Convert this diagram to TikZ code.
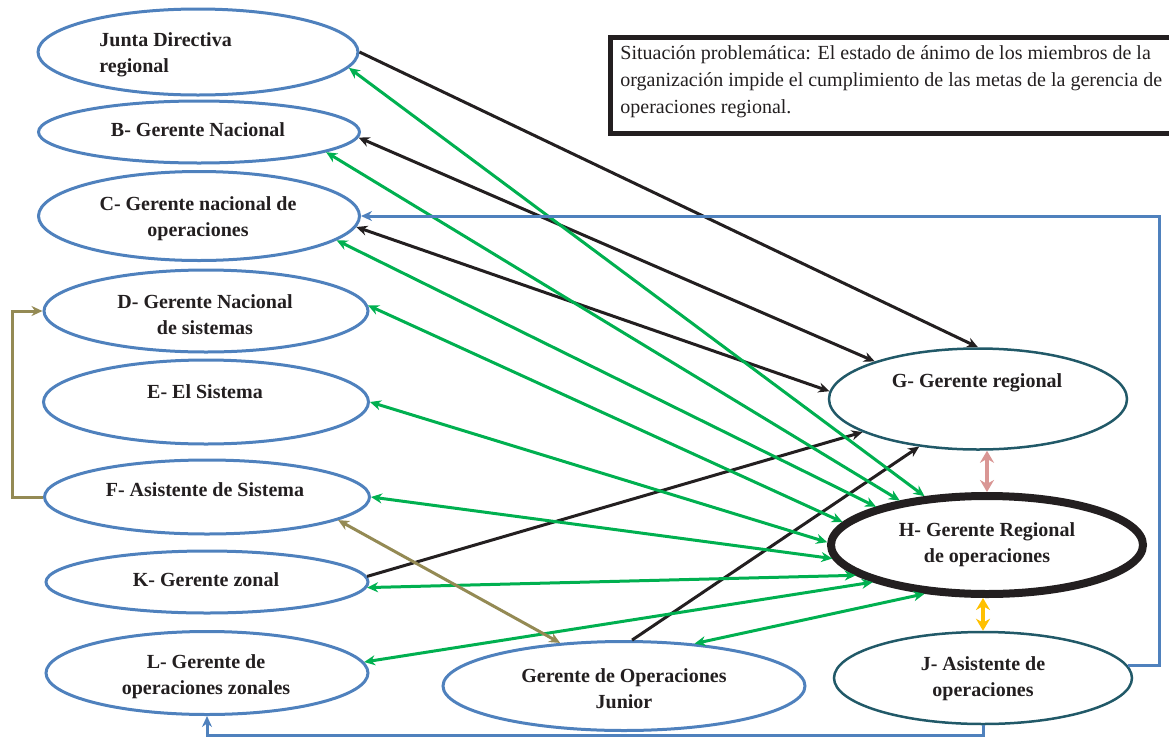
\documentclass[tikz,border=0pt]{standalone}
\usepackage{fontspec}
\setmainfont{Liberation Serif}
\usetikzlibrary{shapes.geometric,arrows.meta}
\definecolor{azul}{RGB}{79,129,189}
\definecolor{petroleo}{RGB}{33,89,104}
\definecolor{verde}{RGB}{0,176,80}
\definecolor{oliva}{RGB}{148,138,84}
\definecolor{rosa}{RGB}{217,150,148}
\definecolor{oro}{RGB}{255,192,0}
\definecolor{negro}{RGB}{35,31,32}

\begin{document}
\begin{tikzpicture}[x=0.5pt,y=-0.5pt,
    >={Stealth[length=5.5pt,width=5pt]},
    persona/.style = {draw=azul, ellipse, line width=1.5pt, inner sep=0pt},
    regional/.style = {draw=petroleo, ellipse, line width=1.25pt, inner sep=0pt},
    texto/.style = {font=\bfseries\fontsize{10}{13}\selectfont, text=negro, align=center},
    linea/.style = {line width=1.5pt}]
    \useasboundingbox (0,0) rectangle (1169,740);

    \node[draw=negro, line width=2.5pt, minimum width=290pt, minimum height=48pt, anchor=north west] (sit) at (607.5,34.5) {};
    \node[anchor=west, align=left, inner sep=0pt, text=negro, font=\fontsize{10}{13.5}\selectfont] (sittxt) at (620,82)
        {Situación problemática: El estado de ánimo de los miembros de la\\
         organización impide el cumplimiento de las metas de la gerencia de\\
         operaciones regional.};

    \node[persona, minimum width=160pt, minimum height=43pt]   (A)  at (198,52)  {};
    \node[persona, minimum width=160.5pt, minimum height=31pt] (B)  at (199,132) {};
    \node[persona, minimum width=160.5pt, minimum height=44.5pt] (C) at (199,216) {};
    \node[persona, minimum width=162pt, minimum height=41pt]   (D)  at (206,311) {};
    \node[persona, minimum width=162.5pt, minimum height=42pt] (E)  at (206,402) {};
    \node[persona, minimum width=162.5pt, minimum height=37pt] (F)  at (207,497) {};
    \node[persona, minimum width=161pt, minimum height=31pt]   (K)  at (207,582) {};
    \node[persona, minimum width=161pt, minimum height=41.5pt] (L)  at (207,673) {};
    \node[persona, minimum width=181pt, minimum height=44.5pt] (jr) at (624,686) {};
    \node[regional, minimum width=149pt, minimum height=50.5pt] (G) at (978,399) {};
    \node[draw=negro, ellipse, line width=4pt, inner sep=0pt, minimum width=156pt, minimum height=49pt] (H) at (987,545) {};
    \node[regional, minimum width=149pt, minimum height=46pt]  (J)  at (983,678) {};

    \node[texto, anchor=west, align=left, inner sep=0pt] (At) at (99,55) {Junta Directiva\\regional};
    \node[texto] (Bt)  at (198,130) {B- Gerente Nacional};
    \node[texto] (Ct)  at (198,219) {C- Gerente nacional de\\operaciones};
    \node[texto] (Dt)  at (205,315) {D- Gerente Nacional\\de sistemas};
    \node[texto] (Et)  at (205,392) {E- El Sistema};
    \node[texto] (Ft)  at (205,490) {F- Asistente de Sistema};
    \node[texto] (Kt)  at (206,580) {K- Gerente zonal};
    \node[texto] (Lt)  at (206,677) {L- Gerente de\\operaciones zonales};
    \node[texto] (jrt) at (624,689) {Gerente de Operaciones\\Junior};
    \node[texto] (Gt)  at (977,383) {G- Gerente regional};
    \node[texto] (Ht)  at (987,545) {H- Gerente Regional\\de operaciones};
    \node[texto] (Jt)  at (983,679) {J- Asistente de\\operaciones};

    \coordinate (esq) at (1159,216);

    \draw[linea, negro, ->]  (A.0)    -- (G.north);
    \draw[linea, negro, <->] (B.-2)   -- (G.160);
    \draw[linea, negro, <->] (C.-4)   -- (G.177);
    \draw[linea, negro, ->]  (K.2)    -- (G.196);
    \draw[linea, negro, ->]  (jr.80)  -- (G.219);

    \draw[linea, verde, <->] (A.-6)   -- (H.142);
    \draw[linea, verde, <->] (B.-9)   -- (H.153);
    \draw[linea, verde, <->] (C.-10)  -- (H.161);
    \draw[linea, verde, <->] (D.2)    -- (H.171);
    \draw[linea, verde, <->] (E.east) -- (H.179);
    \draw[linea, verde, <->] (F.east) -- (H.185);
    \draw[linea, verde, <->] (K.-2)   -- (H.193);
    \draw[linea, verde, <->] (L.4)    -- (H.198);
    \draw[linea, verde, <->] (jr.31)  -- (H.218);

    \draw[linea, oliva, <->] (F.-10)  -- (jr.146);
    \draw[linea, oliva, ->]  (F.west) -- ++(-31,0) |- (D.west);

    \draw[line width=2pt, rosa, {Stealth[length=6pt,width=7pt]}-{Stealth[length=6pt,width=7pt]}] (G.south -| H.north) -- (H.north);
    \draw[line width=2pt, oro, {Stealth[length=6pt,width=7pt]}-{Stealth[length=6pt,width=7pt]}] (H.south -| J.north) -- (J.north);

    \draw[linea, azul, ->] (J.5) -| (esq) -- (C.east);
    \draw[linea, azul, ->] (J.south) -- ++(0,10) -| (L.south);
\end{tikzpicture}
\end{document}
